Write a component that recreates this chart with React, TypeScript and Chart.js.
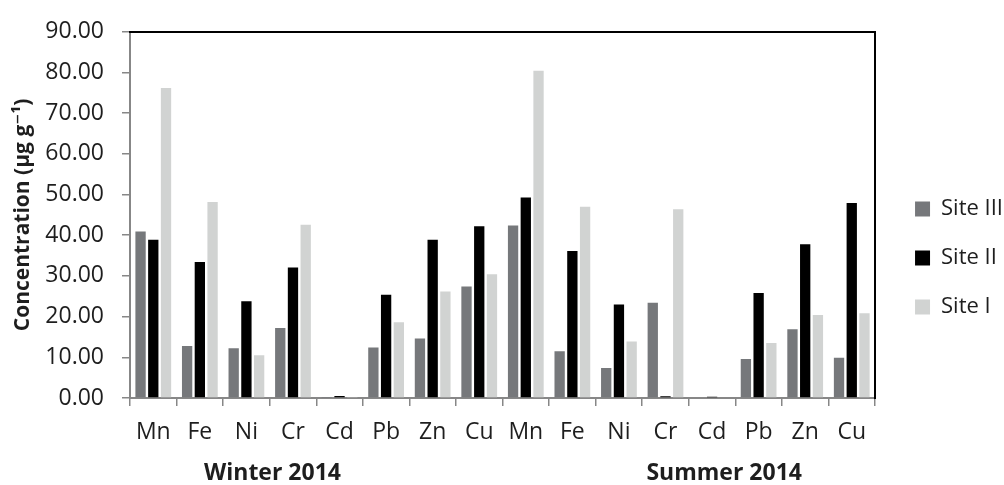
import React, { useEffect, useRef } from "react";
import { Chart, registerables } from "chart.js";

Chart.register(...registerables);

const categories = ["Mn", "Fe", "Ni", "Cr", "Cd", "Pb", "Zn", "Cu", "Mn", "Fe", "Ni", "Cr", "Cd", "Pb", "Zn", "Cu"];
const siteIII = [40.9, 12.8, 12.2, 17.2, 0.05, 12.4, 14.6, 27.4, 42.4, 11.5, 7.4, 23.4, 0, 9.6, 16.9, 9.9];
const siteII = [38.9, 33.4, 23.8, 32.1, 0.5, 25.4, 38.9, 42.2, 49.3, 36.1, 23.0, 0.4, 0.3, 25.8, 37.8, 47.9];
const siteI = [76.2, 48.2, 10.5, 42.6, 0.1, 18.6, 26.2, 30.4, 80.4, 47.0, 13.9, 46.4, 0, 13.5, 20.4, 20.8];
const seriesNames = ["Site III", "Site II", "Site I"];
const groupLabels = ["Winter 2014", "Summer 2014"];
const groupLabelAt = [2.56, 12.26];
const yMin = 0;
const yMax = 90;
const yStep = 10;

const FONT = "'Open Sans', 'DejaVu Sans', sans-serif";
const TEXT = "#1e1e1e";
const AXIS = "#878787";

const groupLabelPlugin = {
  id: "groupLabels",
  afterDraw(chart: any) {
    const { ctx, chartArea, scales } = chart;
    ctx.save();
    ctx.font = `bold 23px ${FONT}`;
    ctx.fillStyle = TEXT;
    ctx.textAlign = "center";
    ctx.textBaseline = "middle";
    groupLabels.forEach((t, i) => {
      ctx.fillText(t, scales.x.getPixelForValue(groupLabelAt[i]), chartArea.bottom + 75);
    });
    ctx.restore();
  },
};

export default function App() {
  const ref = useRef<HTMLCanvasElement | null>(null);
  useEffect(() => {
    document.body.style.margin = "0";
    const chart = new Chart(ref.current as HTMLCanvasElement, {
      type: "bar",
      data: {
        labels: categories,
        datasets: [
          { label: seriesNames[0], data: siteIII, backgroundColor: "#76787b" },
          { label: seriesNames[1], data: siteII, backgroundColor: "#000000" },
          { label: seriesNames[2], data: siteI, backgroundColor: "#d1d3d2" },
        ],
      },
      options: {
        animation: false,
        responsive: false,
        maintainAspectRatio: false,
        layout: { padding: { top: 22, left: 6, right: -9, bottom: -9 } },
        datasets: { bar: { categoryPercentage: 0.82, barPercentage: 0.81, borderWidth: 0 } },
        plugins: {
          tooltip: { enabled: false },
          legend: {
            position: "right",
            labels: {
              boxWidth: 15,
              boxHeight: 15,
              padding: 27,
              color: TEXT,
              font: { family: FONT, size: 22 },
            },
          },
        },
        scales: {
          x: {
            grid: { drawOnChartArea: false, tickLength: 8, color: AXIS, lineWidth: 1.5, offset: true },
            border: { color: AXIS, width: 2 },
            ticks: { color: TEXT, font: { family: FONT, size: 23 }, padding: 13, maxRotation: 0, autoSkip: false },
            afterFit: (s: any) => { s.height = 96; },
          },
          y: {
            min: yMin,
            max: yMax,
            grid: { drawOnChartArea: false, tickLength: 8, color: AXIS, lineWidth: 1.5 },
            border: { color: AXIS, width: 2 },
            ticks: {
              stepSize: yStep,
              color: TEXT,
              padding: 18,
              font: { family: FONT, size: 23 },
              callback: (v: any) => Number(v).toFixed(2),
            },
            title: {
              display: true,
              text: "Concentration (µg g⁻¹)",
              color: TEXT,
              font: { family: FONT, size: 21, weight: "bold" },
              padding: { top: 4, bottom: 0 },
            },
            afterFit: (s: any) => { s.width = 124; },
          },
          yRight: {
            type: "linear",
            position: "right",
            grid: { drawOnChartArea: false, drawTicks: false },
            ticks: { display: false },
            border: { color: "#000000", width: 2 },
            afterFit: (s: any) => { s.width = 13; },
          },
          xTop: {
            type: "linear",
            position: "top",
            grid: { drawOnChartArea: false, drawTicks: false },
            ticks: { display: false },
            border: { color: "#000000", width: 2 },
            afterFit: (s: any) => { s.height = 0; },
          },
        },
      } as any,
      plugins: [groupLabelPlugin],
    });
    return () => chart.destroy();
  }, []);
  return <canvas ref={ref} width={1004} height={485} style={{ display: "block" }} />;
}
